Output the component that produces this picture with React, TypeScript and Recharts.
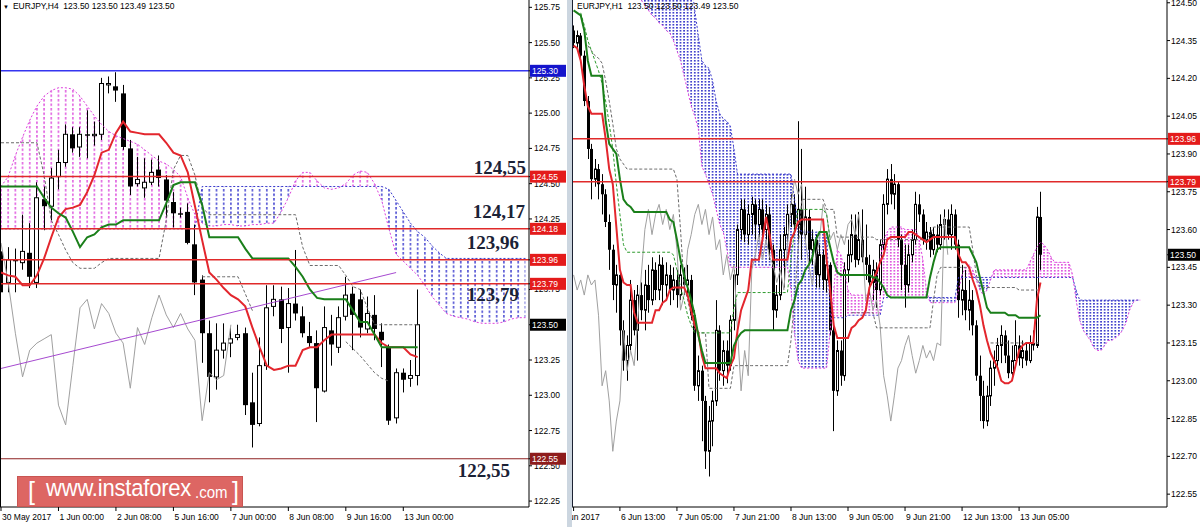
import React from 'react'
import { ComposedChart, Bar, Line, Area, XAxis, YAxis, ReferenceLine } from 'recharts'

// ---------- EURJPY H4 (left panel) ----------
const h4Open = [124.02, 123.80, 123.96, 123.94, 124.01, 123.80, 124.39, 124.34, 124.55, 124.65, 124.85, 124.76, 124.85, 124.84, 124.85, 125.20, 125.19, 125.14, 124.75, 124.50, 124.47, 124.51, 124.60, 124.53, 124.37, 124.29, 124.30, 124.07, 123.82, 123.44, 123.13, 123.32, 123.37, 123.41, 123.44, 122.95, 122.80, 123.21, 123.63, 123.68, 123.48, 123.65, 123.56, 123.42, 123.37, 123.03, 123.46, 123.34, 123.56, 123.72, 123.68, 123.47, 123.57, 123.45, 123.34, 122.84, 123.16, 123.12, 123.14]
const h4High = [124.07, 124.05, 124.04, 124.28, 124.22, 124.51, 124.48, 124.61, 124.74, 124.92, 124.90, 124.90, 125.02, 124.94, 125.25, 125.26, 125.29, 125.20, 124.81, 124.69, 124.68, 124.67, 124.70, 124.56, 124.44, 124.33, 124.36, 124.21, 123.85, 123.53, 123.51, 123.51, 123.48, 123.50, 123.48, 123.16, 123.41, 123.78, 123.78, 123.77, 123.76, 124.03, 123.63, 123.52, 123.46, 123.63, 123.57, 123.63, 123.84, 123.77, 123.75, 123.70, 123.71, 123.51, 123.36, 123.19, 123.19, 123.25, 123.75]
const h4Low = [123.69, 123.73, 123.73, 123.89, 123.76, 123.76, 124.17, 124.24, 124.46, 124.62, 124.72, 124.69, 124.68, 124.77, 124.81, 125.14, 125.08, 124.74, 124.42, 124.48, 124.40, 124.49, 124.48, 124.26, 124.19, 124.26, 124.07, 123.71, 123.23, 122.95, 123.04, 123.26, 123.27, 123.39, 122.86, 122.63, 122.78, 123.18, 123.56, 123.37, 123.16, 123.53, 123.41, 123.34, 122.81, 123.02, 123.21, 123.30, 123.53, 123.32, 123.41, 123.44, 123.39, 123.20, 122.79, 122.80, 123.02, 123.06, 123.07]
const h4Close = [123.73, 123.96, 123.95, 124.02, 123.84, 124.40, 124.34, 124.54, 124.65, 124.85, 124.75, 124.85, 124.84, 124.85, 125.21, 125.21, 125.16, 124.76, 124.48, 124.53, 124.51, 124.58, 124.54, 124.38, 124.29, 124.28, 124.08, 123.80, 123.44, 123.13, 123.32, 123.37, 123.40, 123.43, 122.93, 122.79, 123.21, 123.62, 123.68, 123.47, 123.65, 123.58, 123.44, 123.37, 123.05, 123.48, 123.36, 123.55, 123.71, 123.57, 123.48, 123.58, 123.47, 123.39, 122.82, 123.16, 123.11, 123.14, 123.50]
const h4Tenkan = [123.87, 123.85, 123.84, 123.78, 123.78, 123.85, 123.97, 124.12, 124.26, 124.32, 124.33, 124.35, 124.44, 124.56, 124.72, 124.74, 124.86, 124.94, 124.87, 124.86, 124.85, 124.85, 124.85, 124.79, 124.72, 124.70, 124.58, 124.34, 124.10, 123.87, 123.82, 123.76, 123.71, 123.68, 123.63, 123.48, 123.34, 123.21, 123.18, 123.19, 123.21, 123.21, 123.32, 123.34, 123.34, 123.39, 123.43, 123.43, 123.43, 123.43, 123.43, 123.43, 123.43, 123.37, 123.34, 123.34, 123.34, 123.29, 123.27]
const h4Kijun = [124.48, 124.48, 124.48, 124.48, 124.48, 124.48, 124.40, 124.33, 124.29, 124.26, 124.16, 124.05, 124.12, 124.14, 124.19, 124.21, 124.21, 124.24, 124.24, 124.24, 124.24, 124.24, 124.24, 124.36, 124.49, 124.51, 124.51, 124.51, 124.35, 124.12, 124.12, 124.12, 124.12, 124.12, 124.04, 123.97, 123.97, 123.97, 123.97, 123.97, 123.97, 123.91, 123.84, 123.75, 123.69, 123.68, 123.68, 123.68, 123.68, 123.60, 123.52, 123.52, 123.43, 123.34, 123.34, 123.34, 123.34, 123.34, 123.34]
const h4SpanA = [124.48, 124.55, 124.70, 124.83, 124.95, 125.05, 125.12, 125.16, 125.18, 125.18, 125.17, 125.12, 125.05, 124.98, 124.92, 124.87, 124.84, 124.82, 124.80, 124.78, 124.74, 124.70, 124.66, 124.64, 124.60, 124.55, 124.40, 124.28, 124.22, 124.20, 124.20, 124.21, 124.21, 124.20, 124.20, 124.21, 124.21, 124.22, 124.22, 124.30, 124.40, 124.52, 124.58, 124.58, 124.52, 124.47, 124.46, 124.47, 124.50, 124.56, 124.59, 124.58, 124.50, 124.38, 124.18, 124.00, 123.95, 123.90, 123.85, 123.78, 123.70, 123.64, 123.58, 123.56, 123.55, 123.54, 123.52, 123.51, 123.51, 123.51, 123.52, 123.54, 123.55, 123.55]
const h4SpanB = [124.18, 124.18, 124.18, 124.18, 124.18, 124.18, 124.18, 124.18, 124.18, 124.18, 124.18, 124.18, 124.18, 124.18, 124.18, 124.18, 124.18, 124.18, 124.18, 124.18, 124.18, 124.18, 124.18, 124.18, 124.18, 124.18, 124.18, 124.18, 124.48, 124.48, 124.48, 124.48, 124.48, 124.48, 124.48, 124.48, 124.48, 124.48, 124.48, 124.48, 124.48, 124.48, 124.48, 124.48, 124.48, 124.48, 124.48, 124.48, 124.48, 124.48, 124.48, 124.48, 124.48, 124.48, 124.46, 124.38, 124.30, 124.22, 124.16, 124.12, 124.06, 124.01, 123.97, 123.97, 123.97, 123.97, 123.97, 123.97, 123.97, 123.97, 123.97, 123.97, 123.97, 123.97]
const h4DashA = [124.79, 124.79, 124.79, 124.79, 124.79, 124.79, 124.56, 124.24, 124.14, 124.03, 123.94, 123.90, 123.90, 123.90, 123.94, 123.97, 123.97, 123.97, 123.97, 123.97, 123.97, 123.97, 123.97, 124.24, 124.60, 124.70, 124.70, 124.56, 124.33, 124.28, 124.28, 124.28, 124.28, 124.28, 124.28, 124.28, 124.28, 124.28, 124.28, 124.28, 124.28, 124.28, 124.05, 123.92, 123.92, 123.92, 123.92, 123.92, 123.85, 123.77, 123.75, 123.62, 123.50, 123.50, 123.50, 123.50, 123.50, 123.50, 123.50]
const h4DashBStart = 28
const h4DashB = [123.84, 123.84, 123.84, 123.84, 123.84, 123.84, 123.72, 123.60, null, null, null, null, null, null, null, null, null, null, null, null, 123.38, 123.33, 123.28, 123.22, 123.16, 123.12, 123.10]
const h4Trend = [{ x: 0, y: 123.19 }, { x: 55, y: 123.87 }]
const h4TimeLabels: Record<number, string> = { 0: '30 May 2017', 8: '1 Jun 00:00', 16: '2 Jun 08:00', 24: '5 Jun 16:00', 32: '7 Jun 00:00', 40: '8 Jun 08:00', 48: '9 Jun 16:00', 56: '13 Jun 00:00' }
const h4PriceTicks = [125.75, 125.5, 125.25, 125, 124.75, 124.5, 124.25, 123.75, 123.25, 123, 122.75, 122.5, 122.25]
const h4Tags: Record<string, { text: string; bg: string }> = {
  '125.3': { text: '125.30', bg: '#1414cc' },
  '124.55': { text: '124.55', bg: '#e41b1b' },
  '124.18': { text: '124.18', bg: '#e41b1b' },
  '123.96': { text: '123.96', bg: '#e41b1b' },
  '123.79': { text: '123.79', bg: '#e41b1b' },
  '123.5': { text: '123.50', bg: '#000000' },
  '122.55': { text: '122.55', bg: '#8e1c1c' },
}

// ---------- EURJPY H1 (right panel) ----------
const h1Open = [124.39, 124.34, 124.37, 124.29, 124.11, 123.92, 123.80, 123.84, 123.78, 123.74, 123.63, 123.52, 123.38, 123.42, 123.20, 123.08, 123.14, 123.32, 123.20, 123.34, 123.28, 123.38, 123.32, 123.44, 123.36, 123.46, 123.38, 123.42, 123.36, 123.40, 123.34, 123.42, 123.38, 123.40, 123.26, 122.98, 123.04, 122.92, 122.72, 122.84, 122.92, 123.20, 123.04, 123.12, 123.06, 123.24, 123.42, 123.60, 123.68, 123.58, 123.66, 123.70, 123.62, 123.68, 123.60, 123.66, 123.52, 123.28, 123.34, 123.52, 123.58, 123.66, 123.70, 123.62, 123.68, 123.58, 123.65, 123.52, 123.56, 123.42, 123.50, 123.40, 123.46, 123.20, 122.96, 123.12, 123.02, 123.44, 123.50, 123.58, 123.48, 123.56, 123.49, 123.46, 123.39, 123.44, 123.36, 123.54, 123.70, 123.80, 123.74, 123.78, 123.56, 123.46, 123.38, 123.50, 123.56, 123.70, 123.66, 123.56, 123.59, 123.52, 123.58, 123.54, 123.62, 123.64, 123.58, 123.66, 123.54, 123.32, 123.36, 123.28, 123.32, 123.22, 123.02, 122.94, 122.84, 122.94, 123.05, 123.08, 123.14, 123.18, 123.10, 123.03, 123.08, 123.14, 123.09, 123.12, 123.08, 123.15, 123.14, 123.65]
const h1High = [124.41, 124.39, 124.38, 124.31, 124.13, 123.94, 123.88, 123.86, 123.82, 123.76, 123.66, 123.54, 123.46, 123.44, 123.24, 123.18, 123.40, 123.36, 123.38, 123.39, 123.44, 123.46, 123.49, 123.47, 123.50, 123.49, 123.47, 123.46, 123.45, 123.44, 123.46, 123.45, 123.46, 123.42, 123.28, 123.10, 123.06, 122.94, 122.90, 122.96, 123.32, 123.22, 123.16, 123.16, 123.26, 123.44, 123.62, 123.72, 123.72, 123.70, 123.73, 123.72, 123.72, 123.72, 123.70, 123.69, 123.54, 123.38, 123.58, 123.61, 123.70, 123.74, 123.74, 124.03, 123.92, 123.77, 123.68, 123.60, 123.58, 123.54, 123.52, 123.50, 123.47, 123.22, 123.16, 123.16, 123.47, 123.56, 123.66, 123.66, 123.67, 123.68, 123.62, 123.50, 123.48, 123.47, 123.56, 123.74, 123.84, 123.86, 123.82, 123.79, 123.58, 123.54, 123.54, 123.60, 123.75, 123.74, 123.68, 123.63, 123.61, 123.61, 123.62, 123.66, 123.68, 123.68, 123.70, 123.68, 123.56, 123.46, 123.44, 123.40, 123.36, 123.24, 123.10, 123.00, 122.98, 123.08, 123.12, 123.17, 123.22, 123.20, 123.16, 123.14, 123.24, 123.18, 123.16, 123.15, 123.18, 123.20, 123.69, 123.75]
const h1Low = [124.32, 124.31, 124.27, 124.09, 123.88, 123.72, 123.77, 123.72, 123.66, 123.61, 123.44, 123.32, 123.27, 123.14, 123.04, 123.00, 123.12, 123.18, 123.08, 123.24, 123.20, 123.27, 123.30, 123.32, 123.32, 123.30, 123.33, 123.30, 123.32, 123.29, 123.32, 123.34, 123.34, 123.24, 122.96, 122.92, 122.76, 122.65, 122.62, 122.74, 122.90, 123.00, 122.98, 122.99, 123.04, 123.20, 123.38, 123.56, 123.55, 123.54, 123.58, 123.56, 123.57, 123.56, 123.56, 123.48, 123.20, 123.25, 123.32, 123.37, 123.55, 123.61, 123.58, 123.56, 123.48, 123.56, 123.47, 123.46, 123.37, 123.37, 123.36, 123.35, 123.18, 122.80, 122.94, 122.98, 123.00, 123.39, 123.47, 123.45, 123.46, 123.47, 123.40, 123.34, 123.32, 123.29, 123.34, 123.52, 123.66, 123.70, 123.68, 123.53, 123.36, 123.29, 123.35, 123.47, 123.54, 123.63, 123.54, 123.52, 123.49, 123.50, 123.51, 123.52, 123.56, 123.56, 123.52, 123.52, 123.25, 123.26, 123.24, 123.20, 123.18, 123.00, 122.84, 122.81, 122.82, 122.90, 122.98, 123.05, 123.07, 123.07, 123.01, 123.02, 123.08, 123.06, 123.05, 123.06, 123.07, 123.12, 123.13, 123.44]
const h1Close = [124.34, 124.37, 124.29, 124.11, 123.92, 123.80, 123.84, 123.78, 123.74, 123.63, 123.52, 123.38, 123.42, 123.20, 123.08, 123.14, 123.32, 123.20, 123.34, 123.28, 123.38, 123.32, 123.44, 123.36, 123.46, 123.38, 123.42, 123.36, 123.40, 123.34, 123.42, 123.38, 123.40, 123.26, 122.98, 123.04, 122.92, 122.72, 122.84, 122.92, 123.20, 123.04, 123.12, 123.06, 123.24, 123.42, 123.60, 123.68, 123.58, 123.66, 123.70, 123.62, 123.68, 123.60, 123.66, 123.52, 123.28, 123.34, 123.52, 123.58, 123.66, 123.70, 123.62, 123.68, 123.58, 123.65, 123.52, 123.56, 123.42, 123.50, 123.40, 123.46, 123.20, 122.96, 123.12, 123.02, 123.44, 123.50, 123.58, 123.48, 123.56, 123.49, 123.46, 123.39, 123.44, 123.36, 123.54, 123.70, 123.80, 123.74, 123.78, 123.56, 123.46, 123.38, 123.50, 123.56, 123.70, 123.66, 123.56, 123.59, 123.52, 123.58, 123.54, 123.62, 123.64, 123.58, 123.66, 123.54, 123.32, 123.36, 123.28, 123.32, 123.22, 123.02, 122.94, 122.84, 122.94, 123.05, 123.08, 123.14, 123.18, 123.10, 123.03, 123.08, 123.14, 123.09, 123.12, 123.08, 123.15, 123.14, 123.65, 123.50]
const h1Tenkan = [124.33, 124.32, 124.27, 124.17, 124.09, 124.06, 124.06, 124.06, 124.06, 123.96, 123.84, 123.78, 123.61, 123.44, 123.39, 123.38, 123.38, 123.27, 123.23, 123.23, 123.23, 123.23, 123.23, 123.28, 123.28, 123.31, 123.32, 123.36, 123.37, 123.37, 123.37, 123.37, 123.34, 123.28, 123.22, 123.19, 123.10, 123.05, 123.05, 123.05, 123.05, 123.03, 123.02, 123.01, 123.06, 123.09, 123.20, 123.28, 123.32, 123.36, 123.48, 123.48, 123.48, 123.56, 123.65, 123.58, 123.48, 123.48, 123.48, 123.48, 123.48, 123.56, 123.59, 123.63, 123.64, 123.64, 123.64, 123.64, 123.64, 123.64, 123.64, 123.48, 123.36, 123.22, 123.17, 123.17, 123.17, 123.17, 123.21, 123.22, 123.24, 123.25, 123.28, 123.37, 123.40, 123.43, 123.47, 123.50, 123.56, 123.57, 123.57, 123.57, 123.57, 123.57, 123.59, 123.59, 123.58, 123.57, 123.56, 123.55, 123.56, 123.57, 123.57, 123.57, 123.57, 123.57, 123.57, 123.57, 123.50, 123.47, 123.47, 123.45, 123.40, 123.36, 123.30, 123.22, 123.16, 123.11, 123.08, 123.05, 123.00, 122.99, 122.99, 123.00, 123.06, 123.12, 123.14, 123.15, 123.15, 123.15, 123.32, 123.39]
const h1Kijun = [124.47, 124.46, 124.45, 124.39, 124.27, 124.21, 124.21, 124.21, 124.21, 124.03, 123.94, 123.92, 123.90, 123.80, 123.72, 123.70, 123.69, 123.67, 123.67, 123.67, 123.67, 123.67, 123.67, 123.67, 123.67, 123.67, 123.67, 123.64, 123.63, 123.56, 123.48, 123.42, 123.37, 123.32, 123.26, 123.18, 123.12, 123.07, 123.07, 123.07, 123.07, 123.07, 123.07, 123.07, 123.07, 123.14, 123.17, 123.19, 123.20, 123.20, 123.20, 123.20, 123.20, 123.20, 123.20, 123.20, 123.20, 123.20, 123.20, 123.20, 123.20, 123.28, 123.32, 123.38, 123.40, 123.44, 123.46, 123.49, 123.56, 123.59, 123.59, 123.59, 123.53, 123.47, 123.43, 123.42, 123.42, 123.42, 123.42, 123.42, 123.42, 123.42, 123.42, 123.42, 123.41, 123.41, 123.39, 123.37, 123.34, 123.33, 123.33, 123.33, 123.33, 123.33, 123.33, 123.33, 123.33, 123.33, 123.33, 123.33, 123.41, 123.47, 123.52, 123.53, 123.53, 123.53, 123.53, 123.53, 123.53, 123.53, 123.53, 123.53, 123.50, 123.47, 123.41, 123.35, 123.29, 123.27, 123.27, 123.27, 123.27, 123.27, 123.26, 123.26, 123.26, 123.25, 123.25, 123.25, 123.25, 123.25, 123.25, 123.26]
const h1CloudStart = 19
const h1SpanA = [124.51, 124.49, 124.47, 124.45, 124.44, 124.42, 124.41, 124.39, 124.38, 124.35, 124.31, 124.27, 124.21, 124.15, 124.09, 124.05, 124.00, 123.85, 123.82, 123.78, 123.74, 123.68, 123.62, 123.59, 123.52,
  123.45, 123.45, 123.45, 123.45, 123.45, 123.45, 123.45, 123.45, 123.45, 123.45, 123.45, 123.45, 123.45, 123.45, 123.45, 123.45, 123.45,
  123.36, 123.18, 123.08, 123.05, 123.05, 123.05, 123.05, 123.05, 123.05, 123.05, 123.05,
  123.20, 123.36, 123.52, 123.50, 123.44, 123.36, 123.34, 123.34, 123.34, 123.34, 123.34, 123.34, 123.34,
  123.40, 123.48, 123.56, 123.59, 123.61, 123.61, 123.61, 123.61, 123.60, 123.60, 123.60, 123.60, 123.56, 123.48, 123.36,
  123.31, 123.31, 123.31, 123.31, 123.31, 123.31, 123.31, 123.31,
  123.36, 123.42, 123.45, 123.46, 123.44, 123.40, 123.36, 123.34, 123.36, 123.40,
  123.44, 123.44, 123.44, 123.44, 123.44, 123.44, 123.44, 123.44, 123.44, 123.44,
  123.47, 123.50, 123.53, 123.55, 123.54, 123.52, 123.49, 123.47, 123.47, 123.47, 123.47, 123.47, 123.42,
  123.32, 123.24, 123.20, 123.18, 123.16, 123.13, 123.12, 123.12, 123.14, 123.16, 123.16, 123.17, 123.18, 123.20, 123.23, 123.28, 123.31, 123.32, 123.32]
const h1SpanB = [124.59, 124.59, 124.59, 124.59, 124.59, 124.59, 124.59, 124.59, 124.59, 124.59, 124.59, 124.59, 124.59, 124.59, 124.59,
  124.47, 124.37, 124.27, 124.25, 124.24, 124.19, 124.11, 124.06, 124.04, 124.03, 124.01, 123.92, 123.82,
  123.82, 123.82, 123.82, 123.82, 123.82, 123.82, 123.82, 123.82, 123.82, 123.82, 123.82, 123.82, 123.82, 123.82, 123.82,
  123.72, 123.62, 123.59, 123.59, 123.59, 123.59, 123.59, 123.59, 123.59, 123.59,
  123.25, 123.25, 123.25, 123.25, 123.25,
  123.26, 123.26, 123.26, 123.26, 123.26, 123.26, 123.26, 123.26, 123.26, 123.26,
  123.33, 123.33, 123.33, 123.33, 123.33, 123.33, 123.33, 123.33, 123.33, 123.33, 123.33, 123.33, 123.33, 123.33, 123.33, 123.33, 123.33, 123.33, 123.33, 123.33, 123.33,
  123.41, 123.41, 123.41, 123.41, 123.41, 123.41, 123.41, 123.41, 123.41, 123.41, 123.41, 123.41, 123.41, 123.41, 123.41, 123.41, 123.41, 123.41, 123.41, 123.41, 123.41, 123.41, 123.41, 123.41, 123.41, 123.41, 123.41, 123.41, 123.41, 123.41, 123.41, 123.41, 123.41,
  123.36,
  123.32, 123.32, 123.32, 123.32, 123.32, 123.32, 123.32, 123.32, 123.32, 123.32, 123.32, 123.32, 123.32, 123.32, 123.32, 123.32, 123.32, 123.32]
const h1DashA = [null, null, null, null, 124.33, 124.31, 124.29, 124.28, 124.26, 124.19,
  124.11, 124.02, 123.92, 123.88, 123.86, 123.84, 123.84, 123.84, 123.84, 123.84,
  123.84, 123.84, 123.84, 123.84, 123.84, 123.84, 123.84, 123.84, 123.84, 123.80,
  123.60, 123.38, 123.32, 123.26, 123.20, 123.19, 123.19, 123.19, 122.97, 122.97,
  122.97, 122.97, 122.97, 122.97, 122.97, 123.06, 123.06, 123.06, 123.06, 123.06,
  123.06, 123.06, 123.06, 123.06, 123.06, 123.06, 123.06, 123.06, 123.06, 123.06,
  123.06, 123.16, 123.32, 123.52, 123.72, 123.72, 123.72, 123.72, 123.72, 123.72,
  123.72, 123.68, 123.68, 123.68, 123.57, 123.57, 123.57, 123.57, 123.57, 123.57,
  123.57, 123.57, 123.57, 123.57, 123.57, 123.56, 123.56, 123.56, 123.56, 123.56,
  123.56, 123.56, 123.56, 123.56, 123.56, 123.56, 123.56, 123.56, 123.56, 123.56,
  123.58, 123.61, 123.61, 123.61, 123.61, 123.61, 123.61, 123.61, 123.61, 123.61,
  123.61, 123.61, 123.52, 123.42, 123.37, 123.37, 123.37, 123.37, 123.37, 123.37,
  123.37, 123.37, 123.37, 123.37, 123.37, 123.36, 123.36, 123.36, 123.36, 123.36,
  123.36, 123.36]
const h1DashG = [null, null, 124.46, 124.41, 124.35, 124.31, 124.27, 124.23, 124.18, 124.11,
  124.02, 123.92, 123.78, 123.66, 123.54, 123.51, 123.51, 123.51, 123.51, 123.51,
  123.51, 123.51, 123.51, 123.51, 123.51, 123.51, 123.51, 123.51, 123.50, 123.44,
  123.37, 123.32, 123.26, 123.22, 123.19, 123.19, 123.19, 123.19, 123.19, 123.19,
  123.19, 123.19, 123.19, 123.19, 123.19, 123.29, 123.35, 123.35, 123.35, 123.35,
  123.35, 123.35, 123.35, 123.35, 123.35, 123.35, 123.35, 123.35, 123.35, 123.35,
  123.35, 123.48, 123.60, 123.68, 123.68, 123.68, 123.68, 123.68, 123.68, 123.68,
  123.68, 123.66, 123.56]
const h1DashCStart = 78
const h1DashC = [123.27, 123.27, 123.27, 123.27, 123.27, 123.27, 123.27,
  123.21, 123.21, 123.21, 123.21, 123.21, 123.21, 123.21, 123.21, 123.21, 123.21, 123.21, 123.21, 123.21, 123.21, 123.21, 123.21,
  123.32, 123.42, 123.45, 123.45, 123.45, 123.45, 123.45, 123.45, 123.45, 123.45, 123.45,
  null, null, null, null, null,
  123.15, 123.15, 123.15, 123.15, 123.15, 123.15, 123.15, 123.15, 123.15, 123.15, 123.15, 123.15, 123.15, 123.15, 123.15]
const h1TimeLabels: Record<number, string> = { 0: '5 Jun 2017', 13: '6 Jun 13:00', 29: '7 Jun 05:00', 45: '7 Jun 21:00', 61: '8 Jun 13:00', 77: '9 Jun 05:00', 93: '9 Jun 21:00', 109: '12 Jun 13:00', 125: '13 Jun 05:00' }
const h1PriceTicks = [124.5, 124.35, 124.2, 124.05, 123.9, 123.75, 123.6, 123.45, 123.3, 123.15, 123, 122.85, 122.7, 122.55]
const h1Tags: Record<string, { text: string; bg: string }> = {
  '123.96': { text: '123.96', bg: '#e41b1b' },
  '123.79': { text: '123.79', bg: '#e41b1b' },
  '123.5': { text: '123.50', bg: '#000000' },
}

const SANS = "'Liberation Sans', Arial, sans-serif"
const SERIF = "'Liberation Serif', 'Times New Roman', serif"
const CHIKOU_SHIFT = 26

const buildRows = (n: number, o: number[], h: number[], l: number[], c: number[], extra: (i: number) => object) =>
  Array.from({ length: n }, (_, i) => {
    const has = i < c.length
    return {
      i,
      range: has ? [l[i], h[i]] : null,
      open: has ? o[i] : null,
      close: has ? c[i] : null,
      chikou: c[i + CHIKOU_SHIFT] ?? null,
      ...extra(i),
    }
  })

const cloud = (a: number | null | undefined, b: number | null | undefined) => {
  if (a == null || b == null) return { spanA: null, spanB: null, pink: null, blue: null }
  const top = Math.max(a, b)
  return { spanA: a, spanB: b, pink: [b, top], blue: [a, top] }
}

const leftRows = buildRows(h4SpanA.length, h4Open, h4High, h4Low, h4Close, (i) => ({
  tenkan: h4Tenkan[i] ?? null,
  kijun: h4Kijun[i] ?? null,
  dashA: h4DashA[i] ?? null,
  dashB: i >= h4DashBStart ? h4DashB[i - h4DashBStart] ?? null : null,
  ...cloud(h4SpanA[i], h4SpanB[i]),
}))

const rightRows = buildRows(167, h1Open, h1High, h1Low, h1Close, (i) => ({
  tenkan: h1Tenkan[i] ?? null,
  kijun: h1Kijun[i] ?? null,
  dashA: h1DashA[i] ?? null,
  dashG: h1DashG[i] ?? null,
  dashC: i >= h1DashCStart ? h1DashC[i - h1DashCStart] ?? null : null,
  ...cloud(i >= h1CloudStart ? h1SpanA[i - h1CloudStart] : null, i >= h1CloudStart ? h1SpanB[i - h1CloudStart] : null),
}))

const Candle = (props: any) => {
  const { x, y, width, height, payload, bw } = props
  if (!payload || payload.open == null || !(height >= 0)) return null
  const [low, high] = payload.range
  const span = high - low || 0.0001
  const py = (v: number) => y + ((high - v) / span) * height
  const cx = Math.floor(x + width / 2) + 0.5
  const top = py(Math.max(payload.open, payload.close))
  const bot = py(Math.min(payload.open, payload.close))
  const up = payload.close >= payload.open
  return (
    <g>
      <line x1={cx} x2={cx} y1={y} y2={y + height} stroke="#000" strokeWidth={1} />
      {up ? (
        <rect x={cx - bw / 2 + 0.5} y={top} width={bw - 1} height={Math.max(1, bot - top)} fill="#fff" stroke="#000" strokeWidth={1} />
      ) : (
        <rect x={cx - bw / 2} y={top} width={bw} height={Math.max(1, bot - top)} fill="#000" />
      )}
    </g>
  )
}

// big hand-written level captions, placed next to their horizontal lines
const LevelCaption = (props: any) => {
  const { viewBox, big, bigDx = 0, bigDy = 0 } = props
  if (!viewBox || !big) return null
  return (
    <text x={viewBox.x + viewBox.width + bigDx} y={viewBox.y + bigDy} textAnchor="end" fontFamily={SERIF} fontWeight="bold" fontSize={19} fill="#1b2236">{big}</text>
  )
}

// price axis tick: plain label, or a coloured price box for marked levels
const PriceTick = (props: any) => {
  const { x, y, payload, tags, back, w } = props
  const v = payload.value
  const tag = tags[String(v)]
  if (tag) {
    return (
      <g>
        <rect x={x - back} y={y - 6} width={w} height={12} fill={tag.bg} />
        <text x={x - back + 2} y={y + 3.5} fontFamily={SANS} fontSize={8.5} fill="#fff">{tag.text}</text>
      </g>
    )
  }
  return <text x={x} y={y + 3} fontFamily={SANS} fontSize={8.5} fill="#000">{Number(v).toFixed(2)}</text>
}

const TimeTick = (props: any) => {
  const { x, y, payload, labels, shift } = props
  const t = labels[payload.value]
  if (t === undefined) return null
  const dx = shift && shift[payload.value] !== undefined ? shift[payload.value] : 1
  return (
    <g>
      <line x1={x} x2={x} y1={y} y2={y + 4} stroke="#000" />
      <text x={x + dx} y={y + 12.5} fontFamily={SANS} fontSize={8.5} fill="#000">{t}</text>
    </g>
  )
}

const DotPatterns = ({ id, x0, step, dotW, dotH, tileH, pink, blue }: any) => (
  <defs>
    <pattern id={`${id}Pink`} patternUnits="userSpaceOnUse" x={x0} y={0} width={step} height={tileH}>
      <rect x={step / 2 - dotW / 2} y={0} width={dotW} height={dotH} fill={pink} />
    </pattern>
    <pattern id={`${id}Blue`} patternUnits="userSpaceOnUse" x={x0} y={0} width={step} height={tileH}>
      <rect x={step / 2 - dotW / 2} y={0} width={dotW} height={dotH} fill={blue} />
    </pattern>
  </defs>
)

const LeftChart = () => (
  <ComposedChart width={568} height={527} data={leftRows} margin={{ top: 0, right: 0, bottom: 0, left: -2.59 }} barCategoryGap={0}>
    <DotPatterns id="h4" x0={-2.59} step={531.59 / 74} dotW={1.3} dotH={2.5} tileH={4.5} pink="#d93bd9" blue="#2626c8" />
    <XAxis dataKey="i" type="category" interval={0} height={20} tickSize={0} tickMargin={0} tickLine={false} axisLine={{ stroke: '#000' }}
      tick={<TimeTick labels={h4TimeLabels} />} />
    <YAxis orientation="right" width={39} domain={[122.208, 125.802]} ticks={[...h4PriceTicks, 125.3, 124.55, 124.18, 123.96, 123.79, 123.5, 122.55]}
      interval={0} allowDataOverflow tickSize={3} tickMargin={2} axisLine={{ stroke: '#000' }} tickLine={{ stroke: '#000' }}
      tick={<PriceTick tags={h4Tags} back={4} w={36} />} />
    <Area dataKey="pink" type="linear" stroke="none" fill="url(#h4Pink)" fillOpacity={1} isAnimationActive={false} />
    <Area dataKey="blue" type="linear" stroke="none" fill="url(#h4Blue)" fillOpacity={1} isAnimationActive={false} />
    <Line dataKey="spanA" type="linear" stroke="#dd3fdd" strokeWidth={1} strokeDasharray="2 2" dot={false} activeDot={false} isAnimationActive={false} />
    <Line dataKey="spanB" type="linear" stroke="#3b3bcc" strokeWidth={1} strokeDasharray="2 2" dot={false} activeDot={false} isAnimationActive={false} />
    <Line dataKey="chikou" type="linear" stroke="#a0a0a0" strokeWidth={1} dot={false} activeDot={false} isAnimationActive={false} />
    <Line dataKey="dashA" type="linear" stroke="#6a6a6a" strokeWidth={1} strokeDasharray="3 2" dot={false} activeDot={false} isAnimationActive={false} />
    <Line dataKey="dashB" type="linear" stroke="#6a6a6a" strokeWidth={1} strokeDasharray="3 2" dot={false} activeDot={false} isAnimationActive={false} />
    <ReferenceLine segment={h4Trend} stroke="#a64ad0" strokeWidth={1} ifOverflow="visible" />
    <Bar dataKey="range" shape={(p: any) => <Candle {...p} bw={5} />} isAnimationActive={false} />
    <Line dataKey="tenkan" type="linear" stroke="#e3262d" strokeWidth={2} dot={false} activeDot={false} isAnimationActive={false} />
    <Line dataKey="kijun" type="linear" stroke="#1a7f1a" strokeWidth={2} dot={false} activeDot={false} isAnimationActive={false} />
    <ReferenceLine y={125.3} stroke="#3535f0" strokeWidth={1.5} />
    <ReferenceLine y={124.55} stroke="#e02a2a" strokeWidth={1.5} label={<LevelCaption big="124,55" bigDx={-3} bigDy={-3} />} />
    <ReferenceLine y={124.18} stroke="#e02a2a" strokeWidth={1.5} label={<LevelCaption big="124,17" bigDx={-4} bigDy={-11} />} />
    <ReferenceLine y={123.96} stroke="#e02a2a" strokeWidth={1.5} label={<LevelCaption big="123,96" bigDx={-10} bigDy={-11} />} />
    <ReferenceLine y={123.79} stroke="#e02a2a" strokeWidth={1.5} label={<LevelCaption big="123,79" bigDx={-10} bigDy={17} />} />
    <ReferenceLine y={122.55} stroke="#8e2222" strokeWidth={1} label={<LevelCaption big="122,55" bigDx={-19} bigDy={18} />} />
  </ComposedChart>
)

const RightChart = () => (
  <ComposedChart width={628} height={527} data={rightRows} margin={{ top: 0, right: 0, bottom: 0, left: -0.2 }} barCategoryGap={0}>
    <DotPatterns id="h1" x0={-0.2} step={595.2 / 167} dotW={1.5} dotH={1.6} tileH={3} pink="#d93bd9" blue="#2020c4" />
    <XAxis dataKey="i" type="category" interval={0} height={20} tickSize={0} tickMargin={0} tickLine={false} axisLine={{ stroke: '#000' }}
      tick={<TimeTick labels={h1TimeLabels} shift={{ 0: -16 }} />} />
    <YAxis orientation="right" width={33} domain={[122.499, 124.511]} ticks={[...h1PriceTicks, 123.96, 123.79, 123.5]}
      interval={0} allowDataOverflow tickSize={3} tickMargin={1} axisLine={{ stroke: '#000' }} tickLine={{ stroke: '#000' }}
      tick={<PriceTick tags={h1Tags} back={3} w={33} />} />
    <Area dataKey="pink" type="linear" stroke="none" fill="url(#h1Pink)" fillOpacity={1} isAnimationActive={false} />
    <Area dataKey="blue" type="linear" stroke="none" fill="url(#h1Blue)" fillOpacity={1} isAnimationActive={false} />
    <Line dataKey="spanA" type="linear" stroke="#dd3fdd" strokeWidth={1} strokeDasharray="2 2" dot={false} activeDot={false} isAnimationActive={false} />
    <Line dataKey="spanB" type="linear" stroke="#3b3bcc" strokeWidth={1} strokeDasharray="2 2" dot={false} activeDot={false} isAnimationActive={false} />
    <Line dataKey="chikou" type="linear" stroke="#a0a0a0" strokeWidth={1} dot={false} activeDot={false} isAnimationActive={false} />
    <Line dataKey="dashA" type="linear" stroke="#6a6a6a" strokeWidth={1} strokeDasharray="3 2" dot={false} activeDot={false} isAnimationActive={false} />
    <Line dataKey="dashC" type="linear" stroke="#6a6a6a" strokeWidth={1} strokeDasharray="3 2" dot={false} activeDot={false} isAnimationActive={false} />
    <Line dataKey="dashG" type="linear" stroke="#2c9a2c" strokeWidth={1} strokeDasharray="3 2" dot={false} activeDot={false} isAnimationActive={false} />
    <Bar dataKey="range" shape={(p: any) => <Candle {...p} bw={3} />} isAnimationActive={false} />
    <Line dataKey="tenkan" type="linear" stroke="#e3262d" strokeWidth={2} dot={false} activeDot={false} isAnimationActive={false} />
    <Line dataKey="kijun" type="linear" stroke="#1a7f1a" strokeWidth={2} dot={false} activeDot={false} isAnimationActive={false} />
    <ReferenceLine y={123.96} stroke="#e02a2a" strokeWidth={1.5} />
    <ReferenceLine y={123.79} stroke="#e02a2a" strokeWidth={1.5} />
  </ComposedChart>
)

export default function App() {
  return (
    <div style={{ position: 'fixed', left: 0, top: 0, width: 1200, height: 527, background: '#fff', overflow: 'hidden', fontFamily: SANS }}>
      <div style={{ position: 'absolute', left: 0, top: 0 }}><LeftChart /></div>
      <div style={{ position: 'absolute', left: 0, top: 0, width: 1, height: 507, background: '#000' }} />
      <div style={{ position: 'absolute', left: 567, top: 0, width: 5, height: 527, background: '#ccd6e0' }} />
      <div style={{ position: 'absolute', left: 572, top: 0 }}><RightChart /></div>
      <div style={{ position: 'absolute', left: 572, top: 0, width: 1, height: 507, background: '#1c2233' }} />
      <div style={{ position: 'absolute', left: 3, top: 1, fontSize: 8.5, color: '#000', whiteSpace: 'nowrap' }}>
        <span style={{ fontSize: 6, marginRight: 4 }}>▼</span>EURJPY,H4&nbsp; 123.50 123.50 123.49 123.50
      </div>
      <div style={{ position: 'absolute', left: 577, top: 1, fontSize: 8.5, color: '#000', whiteSpace: 'nowrap' }}>
        EURJPY,H1&nbsp; 123.50 123.50 123.49 123.50
      </div>
      <div style={{ position: 'absolute', left: 17, top: 476, width: 226, height: 31, background: '#dd6663', border: '1px solid #c95552', boxSizing: 'border-box', color: '#fff', whiteSpace: 'nowrap' }}>
        <span style={{ position: 'absolute', left: 10, top: 0, fontSize: 25, fontWeight: 300 }}>[</span>
        <span style={{ position: 'absolute', left: 28, top: 0, fontSize: 22, letterSpacing: -0.2, transform: 'scaleY(1.12)', transformOrigin: '0 100%' }}>www.instaforex</span>
        <span style={{ position: 'absolute', left: 177, top: 7, fontSize: 15, transform: 'scaleY(1.12)', transformOrigin: '0 100%' }}>.com</span>
        <span style={{ position: 'absolute', left: 214, top: 0, fontSize: 25, fontWeight: 300 }}>]</span>
      </div>
    </div>
  )
}
